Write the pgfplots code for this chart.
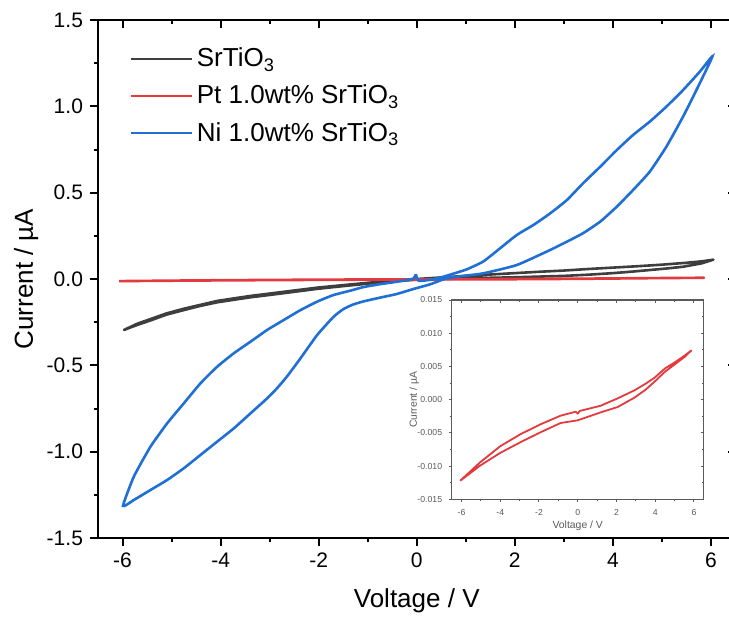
\documentclass[border=0pt]{standalone}
\usepackage{fontspec}
\setmainfont{Liberation Sans}
\usepackage{pgfplots}
\usepackage{pgfplotstable}
\pgfplotsset{compat=1.18}

\definecolor{cblack}{RGB}{62,62,62}
\definecolor{cred}{RGB}{226,58,62}
\definecolor{cblue}{RGB}{31,111,212}
\definecolor{igray}{RGB}{90,90,90}

\pgfplotstableread{
V I
0.00 0.000
0.50 0.009
1.00 0.018
1.50 0.026
2.00 0.034
2.50 0.042
3.00 0.049
3.50 0.058
4.00 0.066
4.50 0.074
5.00 0.083
5.50 0.094
5.80 0.102
6.05 0.112
5.80 0.090
5.43 0.071
5.10 0.061
4.75 0.052
4.40 0.043
4.00 0.034
3.50 0.025
3.00 0.018
2.50 0.014
2.00 0.010
1.50 0.007
1.00 0.004
0.50 0.000
0.00 -0.004
-0.50 -0.014
-1.00 -0.027
-1.56 -0.043
-2.03 -0.057
-2.71 -0.082
-3.39 -0.106
-3.70 -0.119
-4.07 -0.135
-4.40 -0.155
-4.75 -0.180
-5.10 -0.206
-5.43 -0.240
-5.70 -0.266
-5.97 -0.295
-5.70 -0.259
-5.43 -0.232
-5.10 -0.199
-4.75 -0.172
-4.40 -0.149
-4.07 -0.127
-3.70 -0.111
-3.39 -0.098
-2.71 -0.074
-2.03 -0.050
-1.56 -0.037
-1.00 -0.022
-0.50 -0.010
0.00 0.000
}\blacktab

\pgfplotstableread{
V I
-6.07 -0.0122
-5.03 -0.0099
-4.00 -0.0080
-2.96 -0.0064
-1.92 -0.0049
-0.88 -0.0035
0.00 -0.0031
1.19 -0.0019
2.06 -0.0011
2.92 0.0003
3.50 0.0015
3.96 0.0027
4.50 0.0042
5.00 0.0053
5.50 0.0064
5.86 0.0074
5.50 0.0066
5.00 0.0056
4.50 0.0047
3.96 0.0033
3.50 0.0024
2.92 0.0014
2.06 0.0002
1.19 -0.0009
0.10 -0.0017
0.00 -0.0021
-0.10 -0.0018
-0.88 -0.0024
-1.92 -0.0037
-2.96 -0.0052
-4.00 -0.0070
-5.03 -0.0094
-6.07 -0.0122
}\redtab

\pgfplotstableread{
V I
-0.02 0.028
0.04 -0.010
0.30 -0.004
0.48 0.008
0.68 0.025
1.02 0.056
1.36 0.102
1.70 0.178
2.04 0.255
2.38 0.313
2.72 0.380
3.06 0.457
3.39 0.554
3.74 0.650
4.08 0.747
4.41 0.834
4.75 0.911
5.09 0.998
5.43 1.094
5.77 1.200
6.03 1.290
5.77 1.133
5.43 0.940
5.09 0.766
4.75 0.621
4.41 0.515
4.08 0.419
3.74 0.332
3.39 0.265
3.06 0.216
2.72 0.168
2.04 0.081
1.36 0.033
0.95 0.018
0.61 0.004
0.27 -0.031
-0.07 -0.058
-0.41 -0.087
-0.75 -0.108
-1.09 -0.130
-1.30 -0.148
-1.50 -0.175
-1.70 -0.220
-2.03 -0.324
-2.37 -0.459
-2.65 -0.566
-2.85 -0.633
-3.05 -0.691
-3.39 -0.778
-3.73 -0.865
-4.07 -0.942
-4.41 -1.019
-4.75 -1.096
-5.09 -1.164
-5.43 -1.222
-5.77 -1.280
-5.99 -1.314
-5.77 -1.145
-5.43 -0.971
-5.09 -0.836
-4.75 -0.720
-4.41 -0.604
-4.07 -0.508
-3.73 -0.430
-3.39 -0.363
-3.05 -0.295
-2.71 -0.237
-2.37 -0.180
-2.03 -0.131
-1.70 -0.093
-1.36 -0.068
-1.09 -0.047
-0.75 -0.030
-0.41 -0.016
-0.07 0.002
-0.02 0.028
}\bluetab

\begin{document}
\begin{tikzpicture}
% main axis
\begin{axis}[
  at={(0pt,0pt)}, anchor=south west, scale only axis,
  width=318.75pt, height=259pt,
  xmin=-6.5, xmax=6.5, ymin=-1.5, ymax=1.5,
  xtick={-6,-4,...,6}, ytick={-1.5,-1,-0.5,0,0.5,1,1.5},
  minor x tick num=1, minor y tick num=1,
  tick align=outside, xtick pos=left, ytick pos=left,
  major tick length=4pt, minor tick length=2pt,
  axis line style={line width=1pt, black},
  every tick/.style={line width=1pt, black},
  /pgf/number format/assume math mode=true,
  tick label style={font=\fontsize{10.5pt}{12pt}\selectfont},
  yticklabel style={/pgf/number format/.cd, fixed, fixed zerofill, precision=1},
  xlabel={Voltage / V}, ylabel={Current / µA},
  every axis x label/.style={at={(axis description cs:0.5,-0.1332)}, anchor=base, font=\fontsize{13pt}{15pt}\selectfont},
  every axis y label/.style={at={(axis description cs:-0.102,0.5)}, rotate=90, anchor=base, font=\fontsize{13pt}{15pt}\selectfont},
  legend style={at={(axis description cs:0.04,0.962)}, anchor=north west, draw=none, fill=none,
    font=\fontsize{13pt}{15pt}\selectfont, row sep=3.6pt},
  legend cell align=left,
  legend image code/.code={\draw[#1, line width=1pt] (0pt,0pt) -- (30.5pt,0pt);},
]
\addplot[cblack, line width=1.3pt, line join=round] table[x=V, y=I] {\blacktab};
\addlegendentry{SrTiO\textsubscript{3}}
\addplot[cred, line width=1.3pt, line join=round] table[x=V, y=I] {\redtab};
\addlegendentry{Pt 1.0wt\% SrTiO\textsubscript{3}}
\addplot[cblue, line width=1.3pt, smooth, tension=0.3] table[x=V, y=I] {\bluetab};
\addlegendentry{Ni 1.0wt\% SrTiO\textsubscript{3}}
\end{axis}
% mirrored inward ticks top/right
\begin{axis}[
  at={(0pt,0pt)}, anchor=south west, scale only axis,
  width=318.75pt, height=259pt,
  xmin=-6.5, xmax=6.5, ymin=-1.5, ymax=1.5,
  xtick={-6,-4,...,6}, ytick={-1.5,-1,-0.5,0,0.5,1,1.5},
  minor x tick num=1, minor y tick num=1,
  tick align=inside, xtick pos=right, ytick pos=right,
  major tick length=4pt, minor tick length=2pt,
  axis line style={line width=1pt, black},
  every tick/.style={line width=1pt, black},
  xticklabels={}, yticklabels={},
]
\end{axis}
% inset
\begin{axis}[
  at={(176.9pt,19.3pt)}, anchor=south west, scale only axis,
  width=125.95pt, height=99.7pt,
  xmin=-6.5, xmax=6.5, ymin=-0.015, ymax=0.015,
  axis background/.style={fill=white},
  xtick={-6,-4,...,6}, ytick={-0.015,-0.01,-0.005,0,0.005,0.01,0.015},
  scaled y ticks=false,
  minor x tick num=1, minor y tick num=1,
  tick align=outside, xtick pos=left, ytick pos=left,
  major tick length=1.3pt, minor tick length=0.8pt,
  axis line style={line width=0.5pt, igray},
  every tick/.style={line width=0.5pt, igray},
  /pgf/number format/assume math mode=true,
  tick label style={font=\fontsize{4.35pt}{5pt}\selectfont, text=igray},
  yticklabel style={/pgf/number format/.cd, fixed, fixed zerofill, precision=3},
  xlabel={Voltage / V}, ylabel={Current / µA},
  every axis x label/.style={at={(axis description cs:0.5,-0.148)}, anchor=base, font=\fontsize{5.2pt}{6pt}\selectfont, text=igray},
  every axis y label/.style={at={(axis description cs:-0.139,0.5)}, rotate=90, anchor=base, font=\fontsize{5.2pt}{6pt}\selectfont, text=igray},
]
\addplot[cred, line width=0.9pt, line join=round] table[x=V, y=I] {\redtab};
\end{axis}
\begin{axis}[
  at={(176.9pt,19.3pt)}, anchor=south west, scale only axis,
  width=125.95pt, height=99.7pt,
  xmin=-6.5, xmax=6.5, ymin=-0.015, ymax=0.015,
  xtick={-6,-4,...,6}, ytick={-0.015,-0.01,-0.005,0,0.005,0.01,0.015},
  scaled y ticks=false,
  minor x tick num=1, minor y tick num=1,
  tick align=inside, xtick pos=right, ytick pos=right,
  major tick length=1.3pt, minor tick length=0.8pt,
  axis line style={line width=0.5pt, igray},
  every tick/.style={line width=0.5pt, igray},
  xticklabels={}, yticklabels={},
]
\end{axis}
\pgfresetboundingbox
\useasboundingbox (-49pt,-40pt) rectangle (315.5pt,269pt);
\end{tikzpicture}
\end{document}
